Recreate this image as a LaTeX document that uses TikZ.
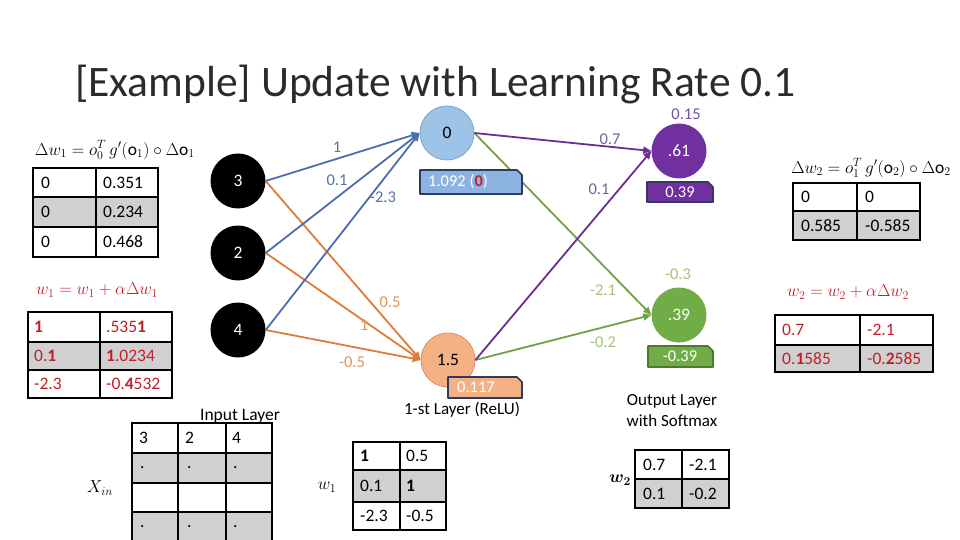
\documentclass[tikz,border=0pt]{standalone}
\usepackage{amsmath}
\usepackage{amssymb}
\usepackage{fontspec}
\setmainfont{Carlito}
\usetikzlibrary{arrows.meta}
\definecolor{eblue}{HTML}{4A6EAE}
\definecolor{eorange}{HTML}{E07B39}
\definecolor{epurple}{HTML}{6B2E92}
\definecolor{egreen}{HTML}{72A14A}
\definecolor{hblue}{HTML}{9DC3E6}
\definecolor{hblueb}{HTML}{7FA3D0}
\definecolor{cblue}{HTML}{8DB3E2}
\definecolor{hsalmon}{HTML}{F4B183}
\definecolor{hsalmonb}{HTML}{D98C66}
\definecolor{opurple}{HTML}{7030A0}
\definecolor{ogreen}{HTML}{70AD47}
\definecolor{cellgray}{HTML}{D0D0D0}
\definecolor{wred}{HTML}{C0202A}
\definecolor{navy}{HTML}{2E3B5E}
\definecolor{dgreen}{HTML}{4E7A2E}
\definecolor{lblue}{HTML}{5673AE}
\definecolor{lorange}{HTML}{E0945A}
\definecolor{lpurple}{HTML}{7A609A}
\definecolor{lgreen}{HTML}{A4C27A}
\definecolor{bpurple}{HTML}{7B50A8}
\definecolor{titlegray}{HTML}{2B2B2B}
\newcommand\tabfont{\fontsize{17.5}{21}\selectfont}
\newcommand\lblfont{\fontsize{16.5}{20}\selectfont}
\newcommand\mathfnt{\fontsize{17.5}{21}\selectfont}
\newcommand\calloutbox[6]{\filldraw[fill=#5, draw=#6, line width=1.6pt, line join=round] (#1,#2) -- ({#3-5},#2) -- (#3,{#2+5}) -- (#3,#4) -- (#1,#4) -- cycle;}
\tikzset{
  tbl/.style={line width=2pt, draw=black},
  ttxt/.style={anchor=west, font=\tabfont, inner sep=0pt},
  lbl/.style={font=\lblfont, inner sep=0pt},
  inode/.style={circle, fill=black, text=white, minimum size=55pt, inner sep=0pt, font=\tabfont},
  edgearrow/.style={line width=1.8pt, -{Triangle[length=8pt,width=7pt]}},
}
\begin{document}
\begin{tikzpicture}[x=1pt,y=-1pt]
\useasboundingbox (0,0) rectangle (960,540);
\clip (0,0) rectangle (960,540);
\fill[white] (0,0) rectangle (960,540);

% title
\node[anchor=base west, font=\fontsize{43.5}{52}\selectfont, text=titlegray, inner sep=0pt] (title) at (75,97) {[Example] Update with Learning Rate 0.1};

% nodes
\node[inode] (i3) at (238,181) {3};
\node[inode] (i2) at (238,253) {2};
\node[inode] (i4) at (238,330) {4};
\node[circle, fill=hblue, draw=hblueb, line width=0.8pt, minimum size=54pt, inner sep=0pt, font=\tabfont] (h1) at (447,133) {0};
\node[circle, fill=hsalmon, draw=hsalmonb, line width=0.8pt, minimum size=54pt, inner sep=0pt, font=\tabfont] (h2) at (448,360) {1.5};
\node[circle, fill=opurple, text=white, minimum size=55pt, inner sep=0pt, font=\tabfont] (o1) at (679,151) {.61};
\node[circle, fill=ogreen, text=white, minimum size=55pt, inner sep=0pt, font=\tabfont] (o2) at (679,315) {.39};

% edges
\draw[edgearrow, eorange] (i3.east) -- (h2.west);
\draw[edgearrow, eorange] (i2.east) -- (h2.west);
\draw[edgearrow, eorange] (i4.east) -- (h2.west);
\draw[edgearrow, eblue] (i3.east) -- (h1.west);
\draw[edgearrow, eblue] (i2.east) -- (h1.west);
\draw[edgearrow, eblue] (i4.east) -- (h1.west);
\draw[edgearrow, egreen] (h1.east) -- (o2.west);
\draw[edgearrow, egreen] (h2.east) -- (o2.west);
\draw[edgearrow, epurple] (h1.east) -- (o1.west);
\draw[edgearrow, epurple] (h2.east) -- (o1.west);

% edge labels
\node[lbl, text=lblue] (lb1) at (337,147) {1};
\node[lbl, text=lblue] (lb2) at (337,180) {0.1};
\node[lbl, text=lblue] (lb3) at (383,197) {-2.3};
\node[lbl, text=lorange] (lo1) at (390,302) {0.5};
\node[lbl, text=lorange] (lo2) at (364,325) {1};
\node[lbl, text=lorange] (lo3) at (352,362) {-0.5};
\node[lbl, text=lpurple] (lp1) at (610,139) {0.7};
\node[lbl, text=lpurple] (lp2) at (599,189) {0.1};
\node[lbl, text=lgreen] (lg1) at (603,290) {-2.1};
\node[lbl, text=lgreen] (lg2) at (603,342) {-0.2};
\node[lbl, text=bpurple] (bias1) at (686,114) {0.15};
\node[lbl, text=lgreen] (bias2) at (678,274) {-0.3};

% callout boxes
\calloutbox{420}{170}{522}{194}{cblue}{navy}
\node[lbl, anchor=west, text=white] (c1t) at (428,182) {1.092 (\textcolor{wred}{\textbf{0}})};
\calloutbox{647}{182}{713}{202}{opurple}{navy}
\node[lbl, text=white] (c2t) at (680,192) {0.39};
\calloutbox{648}{346}{713}{367}{ogreen}{dgreen}
\node[lbl, text=white] (c3t) at (680,356.5) {-0.39};
\calloutbox{448}{377}{522}{398}{hsalmon}{navy}
\node[lbl, anchor=west, text=white] (c4t) at (457,387.5) {0.117};

% layer captions
\node[font=\fontsize{17.5}{21}\selectfont, inner sep=0pt] (cap1) at (240,416) {Input Layer};
\node[font=\fontsize{17}{21}\selectfont, inner sep=0pt] (cap2) at (462,410) {1-st Layer (ReLU)};
\node[font=\fontsize{17}{21}\selectfont, inner sep=0pt, align=center] (cap3) at (672,411) {Output Layer\\with Softmax};

% left top table
\node[font=\mathfnt, inner sep=0pt] (f1) at (115,150) {$\Delta w_1 = o_0^T\, g'(\mathrm{o}_1) \circ \Delta \mathrm{o}_1$};
\fill[cellgray] (33,197) rectangle (158,227);
\draw[tbl] (33,168) rectangle (158,257) (96,168) -- (96,257) (33,197) -- (158,197) (33,227) -- (158,227);
\node[ttxt] (t1a) at (41,182.5) {0};
\node[ttxt] (t1b) at (103,182.5) {0.351};
\node[ttxt] (t1c) at (41,212) {0};
\node[ttxt] (t1d) at (103,212) {0.234};
\node[ttxt] (t1e) at (41,242) {0};
\node[ttxt] (t1f) at (103,242) {0.468};

% left bottom table
\node[font=\mathfnt, inner sep=0pt, text=wred] (f2) at (97,290) {$w_1 = w_1 + \alpha\Delta w_1$};
\fill[cellgray] (28,342) rectangle (172,370);
\draw[tbl] (28,312) rectangle (172,398) (100,312) -- (100,398) (28,342) -- (172,342) (28,370) -- (172,370);
\node[ttxt, text=wred] (t2a) at (34,327) {\textbf{1}};
\node[ttxt, text=wred] (t2b) at (106,327) {.535\textbf{1}};
\node[ttxt, text=wred] (t2c) at (34,356) {0.\textbf{1}};
\node[ttxt, text=wred] (t2d) at (106,356) {\textbf{1}.0234};
\node[ttxt, text=wred] (t2e) at (34,384) {-2.3};
\node[ttxt, text=wred] (t2f) at (106,384) {-0.\textbf{4}532};

% right top table
\node[font=\mathfnt, inner sep=0pt] (f3) at (871,168) {$\Delta w_2 = o_1^T\, g'(\mathrm{o}_2) \circ \Delta \mathrm{o}_2$};
\fill[cellgray] (793,211) rectangle (920,240);
\draw[tbl] (793,183) rectangle (920,240) (857,183) -- (857,240) (793,211) -- (920,211);
\node[ttxt] (t3a) at (801,197) {0};
\node[ttxt] (t3b) at (865,197) {0};
\node[ttxt] (t3c) at (801,225.5) {0.585};
\node[ttxt] (t3d) at (865,225.5) {-0.585};

% right bottom table
\node[font=\mathfnt, inner sep=0pt, text=wred] (f4) at (848,292) {$w_2 = w_2 + \alpha\Delta w_2$};
\fill[cellgray] (775,345) rectangle (933,372);
\draw[tbl] (775,315) rectangle (933,372) (860,315) -- (860,372) (775,345) -- (933,345);
\node[ttxt, text=wred] (t4a) at (782,330) {0.7};
\node[ttxt, text=wred] (t4b) at (867,330) {-2.1};
\node[ttxt, text=wred] (t4c) at (782,358.5) {0.\textbf{1}585};
\node[ttxt, text=wred] (t4d) at (867,358.5) {-0.\textbf{2}585};

% X_in table
\node[font=\mathfnt, inner sep=0pt] (xin) at (100,488) {$X_{in}$};
\fill[cellgray] (132,453) rectangle (272,483);
\fill[cellgray] (132,512) rectangle (272,550);
\draw[tbl] (132,423) rectangle (272,550) (178,423) -- (178,550) (226,423) -- (226,550) (132,453) -- (272,453) (132,483) -- (272,483) (132,512) -- (272,512);
\node[ttxt] (t5a) at (139,438) {3};
\node[ttxt] (t5b) at (185,438) {2};
\node[ttxt] (t5c) at (232,438) {4};
\node[ttxt] (t5d) at (140,468) {.};
\node[ttxt] (t5e) at (187,468) {.};
\node[ttxt] (t5f) at (233,468) {.};
\node[ttxt] (t5g) at (140,527) {.};
\node[ttxt] (t5h) at (187,527) {.};
\node[ttxt] (t5i) at (233,527) {.};

% w1 table
\node[font=\mathfnt, inner sep=0pt] (w1l) at (327,487) {$w_1$};
\fill[cellgray] (353,470) rectangle (446,502);
\draw[tbl] (353,442) rectangle (446,530) (400,442) -- (400,530) (353,470) -- (446,470) (353,502) -- (446,502);
\node[ttxt] (t6a) at (360,456) {\textbf{1}};
\node[ttxt] (t6b) at (406,456) {0.5};
\node[ttxt] (t6c) at (360,486) {0.1};
\node[ttxt] (t6d) at (406,486) {\textbf{1}};
\node[ttxt] (t6e) at (360,516) {-2.3};
\node[ttxt] (t6f) at (406,516) {-0.5};

% w2 table
\node[font=\mathfnt, inner sep=0pt] (w2l) at (620,480) {$\boldsymbol{w_2}$};
\fill[cellgray] (635,479) rectangle (729,508);
\draw[tbl] (635,450) rectangle (729,508) (682,450) -- (682,508) (635,479) -- (729,479);
\node[ttxt] (t7a) at (643,464.5) {0.7};
\node[ttxt] (t7b) at (689,464.5) {-2.1};
\node[ttxt] (t7c) at (643,493.5) {0.1};
\node[ttxt] (t7d) at (689,493.5) {-0.2};
\end{tikzpicture}
\end{document}
